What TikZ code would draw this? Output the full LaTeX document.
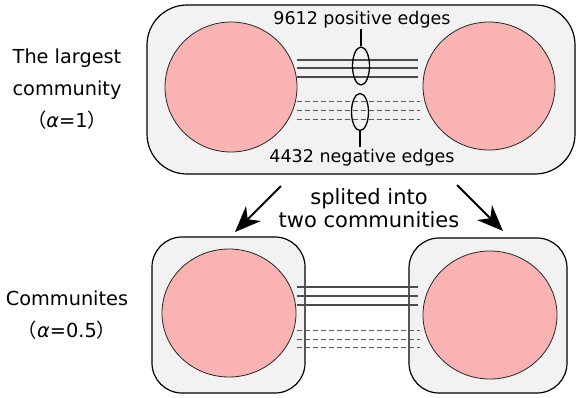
\documentclass[tikz,border=0pt]{standalone}
\usepackage{fontspec}
\setmainfont{DejaVu Sans}
\newfontfamily\cjkfont{Noto Sans CJK JP}
\usetikzlibrary{arrows.meta,shapes.geometric}
\definecolor{commfill}{HTML}{F9B3B3}
\newcommand{\fwl}{{\cjkfont （}}
\newcommand{\fwr}{{\cjkfont ）}}
\begin{document}
\begin{tikzpicture}[x=1pt,y=-1pt,
  box/.style={draw=black,line width=1.2pt,fill=black!5},
  comm/.style={draw=black!85,line width=0.8pt,fill=commfill,ellipse,inner sep=0pt},
  posedge/.style={draw=black!70,line width=1.2pt},
  negedge/.style={draw=black!65,line width=1pt,dash pattern=on 5pt off 3pt},
  ring/.style={draw=black,line width=1.3pt},
  lbl/.style={font=\fontsize{19.3}{32}\selectfont,align=center,inner sep=0pt},
  elbl/.style={font=\fontsize{17.5}{20}\selectfont,inner sep=0pt},
  split/.style={-{Stealth[length=26pt,width=21pt,inset=8pt]},line width=2pt}]
\useasboundingbox (0,0) rectangle (577,397);
% top box
\draw[box,rounded corners=40pt] (147,5) rectangle (575,174);
\node[comm,minimum width=132pt,minimum height=130pt] (c1) at (231,87) {};
\node[comm,minimum width=132pt,minimum height=128pt] (c2) at (489,86) {};
% top edges
\foreach \yy [count=\i] in {60,68,77}{
  \coordinate (tpl\i) at (297,\yy); \coordinate (tpr\i) at (418,\yy);
  \draw[posedge] (tpl\i) -- (tpr\i);}
\foreach \yy [count=\i] in {101,110,119}{
  \coordinate (tnl\i) at (297,\yy); \coordinate (tnr\i) at (420,\yy);
  \draw[negedge] (tnl\i) -- (tnr\i);}
\node[ring,ellipse,minimum width=17pt,minimum height=38pt,inner sep=0pt] (pring) at (361,66) {};
\node[ring,ellipse,minimum width=17pt,minimum height=37pt,inner sep=0pt] (nring) at (360,112) {};
\node[elbl] (plbl) at (362,20) {9612 positive edges};
\node[elbl] (nlbl) at (362,158) {4432 negative edges};
\draw[ring] (pring.north) -- ++(0,-17) coordinate (pt);
\draw[ring] (nring.south) -- ++(0,16) coordinate (nt);
% left labels
\node[lbl] (t1) at (67,89) {The largest\\community\\\fwl\textit{α}=1\fwr};
\node[lbl] (t2) at (67,315) {Communites\\\fwl\textit{α}=0.5\fwr};
\node[lbl,font=\fontsize{21}{23}\selectfont] (t3) at (369,208) {splited into\\two communities};
% bottom boxes
\draw[box,rounded corners=30pt] (152,237) rectangle (305,393);
\draw[box,rounded corners=30pt] (409,238) rectangle (567,393);
\node[comm,minimum width=134pt,minimum height=128pt] (c3) at (229,313) {};
\node[comm,minimum width=134pt,minimum height=128pt] (c4) at (490,315) {};
\foreach \yy [count=\i] in {287,296,305}{
  \coordinate (bpl\i) at (297,\yy); \coordinate (bpr\i) at (418,\yy);
  \draw[posedge] (bpl\i) -- (bpr\i);}
\foreach \yy [count=\i] in {330,339,347}{
  \coordinate (bnl\i) at (297,\yy); \coordinate (bnr\i) at (420,\yy);
  \draw[negedge] (bnl\i) -- (bnr\i);}
% arrows
\coordinate (a1s) at (281,186); \coordinate (a1e) at (235,232);
\coordinate (a2s) at (457,185); \coordinate (a2e) at (503,231);
\draw[split] (a1s) -- (a1e);
\draw[split] (a2s) -- (a2e);
\end{tikzpicture}
\end{document}
